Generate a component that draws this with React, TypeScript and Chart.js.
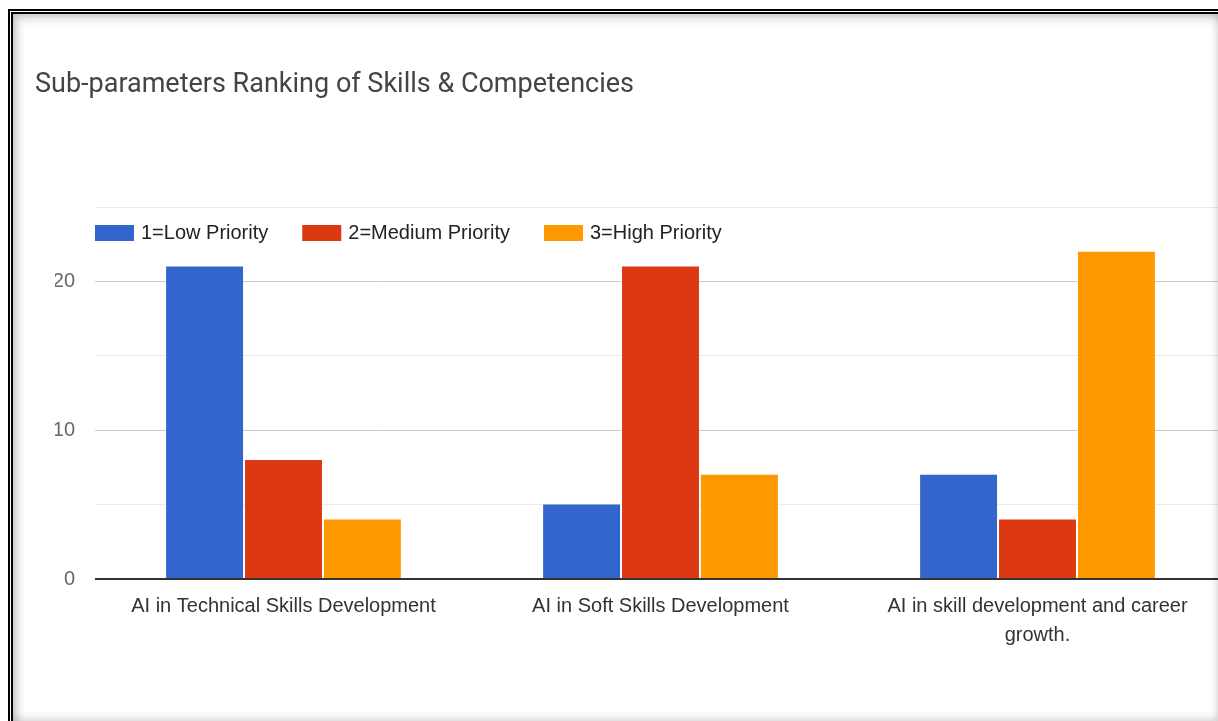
import React, { useEffect, useRef } from 'react';
import { Chart, registerables } from 'chart.js';

Chart.register(...registerables);

const chartTitle = 'Sub-parameters Ranking of Skills & Competencies';
const categories: (string | string[])[] = [
  'AI in Technical Skills Development',
  'AI in Soft Skills Development',
  ['AI in skill development and career', 'growth.'],
];
const seriesLabels = ['1=Low Priority', '2=Medium Priority', '3=High Priority'];
const lowPriority = [21, 5, 7];
const mediumPriority = [8, 21, 4];
const highPriority = [4, 7, 22];
const seriesColors = ['#3366cc', '#dc3912', '#ff9900'];
const labelledTicks = [0, 10, 20];

const LABEL_FONT = '"Liberation Sans", Arial, sans-serif';

const legendPlugin = {
  id: 'insideLegend',
  afterDraw(chart: any) {
    const ctx = chart.ctx;
    const area = chart.chartArea;
    ctx.save();
    ctx.font = `20px ${LABEL_FONT}`;
    ctx.textBaseline = 'middle';
    ctx.textAlign = 'left';
    let x = area.left;
    const yMid = area.top + 26;
    chart.data.datasets.forEach((ds: any) => {
      ctx.fillStyle = ds.backgroundColor;
      ctx.fillRect(x, yMid - 8, 39, 16);
      x += 39 + 7;
      ctx.fillStyle = '#222';
      ctx.fillText(ds.label, x, yMid);
      x += ctx.measureText(ds.label).width + 34;
    });
    ctx.restore();
  },
};

export default function App() {
  const canvasRef = useRef<HTMLCanvasElement | null>(null);

  useEffect(() => {
    if (!canvasRef.current) return;
    const values = [lowPriority, mediumPriority, highPriority];
    const chart = new Chart(canvasRef.current, {
      type: 'bar',
      data: {
        labels: categories,
        datasets: seriesLabels.map((label, i) => ({
          label,
          data: values[i],
          backgroundColor: seriesColors[i],
          borderWidth: 0,
          categoryPercentage: 0.628,
          barPercentage: 0.975,
        })),
      },
      options: {
        animation: false,
        responsive: false,
        devicePixelRatio: 1,
        layout: { padding: { left: 55, top: 207, right: 14, bottom: 62 } },
        plugins: {
          legend: { display: false },
          title: { display: false },
          tooltip: { enabled: false },
        },
        scales: {
          x: {
            grid: { display: false, drawTicks: false },
            border: { display: false },
            ticks: {
              color: '#333',
              padding: 13,
              maxRotation: 0,
              autoSkip: false,
              font: { family: LABEL_FONT, size: 20, lineHeight: 1.45 },
            },
            afterFit: (scale: any) => {
              scale.height = 80;
            },
          },
          y: {
            min: 0,
            max: 25,
            border: { display: false },
            grid: {
              drawTicks: false,
              color: (ctx: any) => {
                const v = ctx.tick?.value;
                if (v === 0) return '#333';
                return labelledTicks.includes(v) ? '#cccccc' : '#ebebeb';
              },
              lineWidth: (ctx: any) => (ctx.tick?.value === 0 ? 2 : 1),
            },
            ticks: {
              stepSize: 5,
              padding: 20,
              color: '#666',
              font: { family: LABEL_FONT, size: 20 },
              callback: (v: any) => (labelledTicks.includes(Number(v)) ? String(v) : ''),
            },
            afterFit: (scale: any) => {
              scale.width = 40;
            },
          },
        },
      },
      plugins: [legendPlugin],
    });
    return () => chart.destroy();
  }, []);

  return (
    <div
      style={{
        position: 'fixed',
        left: 0,
        top: 0,
        width: 1218,
        height: 721,
        overflow: 'hidden',
        background: '#fff',
      }}
    >
      <canvas
        ref={canvasRef}
        width={1240}
        height={721}
        style={{ position: 'absolute', left: 0, top: 0, width: 1240, height: 721 }}
      />
      <div
        style={{
          position: 'absolute',
          left: 35,
          top: 70,
          fontFamily: 'Roboto, "Noto Sans", sans-serif',
          fontSize: 27,
          lineHeight: 1,
          color: '#444',
          whiteSpace: 'nowrap',
        }}
      >
        {chartTitle}
      </div>
      <div
        style={{
          position: 'absolute',
          left: 8,
          top: 9,
          width: 1210,
          height: 712,
          boxSizing: 'border-box',
          borderLeft: '5px double #000',
          borderTop: '5px double #000',
          boxShadow: 'inset 4px 4px 10px rgba(0,0,0,0.22), inset -2px -3px 8px rgba(0,0,0,0.12)',
          pointerEvents: 'none',
        }}
      />
    </div>
  );
}
